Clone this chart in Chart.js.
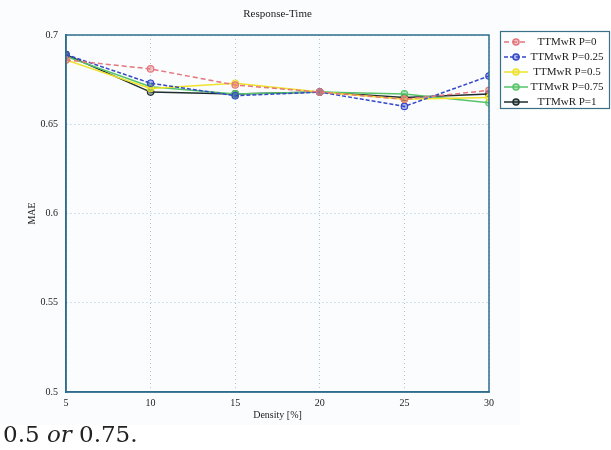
<!DOCTYPE html>
<html>
<head>
<meta charset="utf-8">
<script src="https://cdn.jsdelivr.net/npm/chart.js@4.4.1/dist/chart.umd.min.js"></script>
<style>
  body { margin: 0; background: #fff; }
  #wrap { position: relative; width: 611px; height: 425px; }
  #note { position: absolute; left: 3px; top: 423px; font-family: "DejaVu Serif", serif; font-size: 23px; line-height: 1; color: #222; }
</style>
</head>
<body>
<div id="wrap"><canvas id="chart" width="611" height="425"></canvas></div>
<div id="note">0.5 <i>or</i> 0.75.</div>
<script>
const densities = [5, 10, 15, 20, 25, 30];
const seriesNames = ['TTMwR P=0', 'TTMwR P=0.25', 'TTMwR P=0.5', 'TTMwR P=0.75', 'TTMwR P=1'];
const maeP0 = [0.686, 0.681, 0.672, 0.668, 0.664, 0.669];
const maeP025 = [0.689, 0.673, 0.666, 0.668, 0.660, 0.677];
const maeP05 = [0.686, 0.670, 0.673, 0.668, 0.664, 0.665];
const maeP075 = [0.688, 0.671, 0.667, 0.668, 0.667, 0.662];
const maeP1 = [0.689, 0.668, 0.667, 0.668, 0.665, 0.667];

const serif = '"Liberation Serif", serif';
const colors = ['#e4767c', '#3448c8', '#eee22a', '#56c468', '#1e2e2e'];
const dashes = [[5, 3], [4, 2], [], [], []];
const allSeries = [maeP0, maeP025, maeP05, maeP075, maeP1];

const datasets = allSeries.map((vals, i) => ({
  label: seriesNames[i],
  data: vals.map((v, j) => ({ x: densities[j], y: v })),
  borderColor: colors[i],
  backgroundColor: colors[i] + '66',
  pointBorderColor: colors[i],
  borderWidth: 1.5,
  borderDash: dashes[i],
  pointRadius: 3.2,
  pointBorderWidth: 1.2,
  tension: 0,
}));

// title, plot frame and boxed legend
const decor = {
  id: 'decor',
  beforeDraw(chart) {
    const c = chart.ctx;
    c.save();
    c.fillStyle = '#fbfcfd';
    c.fillRect(0, 0, 520, 425);
    c.restore();
  },
  afterDraw(chart) {
    const c = chart.ctx;
    const a = chart.chartArea;
    c.save();
    c.strokeStyle = '#2f6d8c';
    c.lineWidth = 1.5;
    c.strokeRect(a.left, a.top, a.right - a.left, a.bottom - a.top);

    c.fillStyle = '#222';
    c.font = '11px ' + serif;
    c.textAlign = 'center';
    c.textBaseline = 'middle';
    c.fillText('Response-Time', (a.left + a.right) / 2, 14);

    c.strokeStyle = '#3a6f88';
    c.lineWidth = 1.2;
    c.strokeRect(500.5, 31.5, 109, 77);
    chart.data.datasets.forEach((ds, i) => {
      const y = 42 + i * 15;
      c.strokeStyle = ds.borderColor;
      c.lineWidth = 1.5;
      c.setLineDash(ds.borderDash);
      c.beginPath();
      c.moveTo(504, y);
      c.lineTo(528, y);
      c.stroke();
      c.setLineDash([]);
      c.fillStyle = ds.backgroundColor;
      c.beginPath();
      c.arc(516, y, 3, 0, Math.PI * 2);
      c.fill();
      c.stroke();
      c.fillStyle = '#222';
      c.font = '11px ' + serif;
      c.textAlign = 'center';
      c.fillText(ds.label, 567, y);
    });
    c.restore();
  }
};

new Chart(document.getElementById('chart'), {
  type: 'line',
  data: { datasets },
  plugins: [decor],
  options: {
    responsive: false,
    animation: false,
    layout: { padding: { top: 35, right: 122, left: 0, bottom: 0 } },
    plugins: { legend: { display: false }, tooltip: { enabled: false } },
    scales: {
      x: {
        type: 'linear',
        min: 5,
        max: 30,
        afterFit: (s) => { s.height = 33; },
        ticks: { stepSize: 5, padding: 5, color: '#222', font: { family: serif, size: 10 } },
        grid: { color: '#a8c6dc', drawTicks: false },
        border: { color: '#2f6d8c', width: 1.5, dash: [1, 3] },
        title: { display: true, text: 'Density [%]', color: '#222', font: { family: serif, size: 10 }, padding: { top: 0, bottom: 4 } },
      },
      y: {
        min: 0.5,
        max: 0.7,
        afterFit: (s) => { s.width = 66; },
        ticks: {
          stepSize: 0.05,
          padding: 8,
          color: '#222',
          font: { family: serif, size: 10 },
          callback: (v) => String(Math.round(v * 100) / 100),
        },
        grid: { color: '#a8c6dc', drawTicks: false },
        border: { color: '#2f6d8c', width: 1.5, dash: [1, 3] },
        title: { display: true, text: 'MAE', color: '#222', font: { family: serif, size: 10 }, padding: { top: 26, bottom: 0 } },
      },
    },
  },
});
</script>
</body>
</html>
